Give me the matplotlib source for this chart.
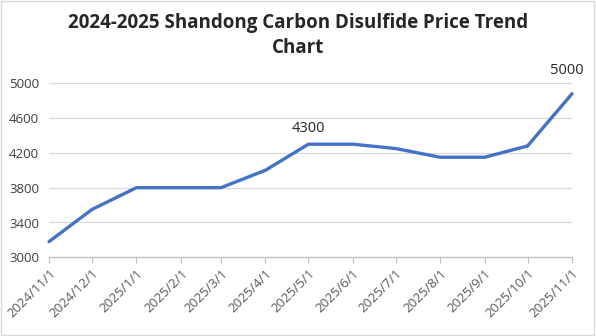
import matplotlib
matplotlib.use("Agg")
import matplotlib.pyplot as plt
import pandas as pd

dates = ["2024/11/1", "2024/12/1", "2025/1/1", "2025/2/1", "2025/3/1", "2025/4/1",
         "2025/5/1", "2025/6/1", "2025/7/1", "2025/8/1", "2025/9/1", "2025/10/1", "2025/11/1"]
prices = [3180, 3550, 3800, 3800, 3800, 4000, 4300, 4300, 4250, 4150, 4150, 4280, 4880]
labels = {6: "4300", 12: "5000"}
title = "2024-2025 Shandong Carbon Disulfide Price Trend\nChart"
yticks = [3000, 3400, 3800, 4200, 4600, 5000]

plt.rcParams['font.family'] = ['Open Sans', 'DejaVu Sans']

x = pd.to_datetime(dates, format="%Y/%m/%d")

fig = plt.figure(figsize=(5.96, 3.36), dpi=100)
ax = fig.add_axes([49/596, 1-257.3/336, (572-49)/596, (257.3-83.3)/336])

ax.plot(x, prices, color="#4472C4", lw=2.4, solid_joinstyle="round", solid_capstyle="round", zorder=3, clip_on=False)

ax.set_ylim(3000, 5000)
ax.set_xlim(x[0], x[-1])
ax.set_yticks(yticks)
ax.set_xticks(x)
ax.set_xticklabels(dates, rotation=45, ha="right", rotation_mode="anchor")
ax.grid(axis="y", color="#D9D9D9", lw=0.9)
ax.set_axisbelow(True)
for s in ["top", "right", "left"]:
    ax.spines[s].set_visible(False)
ax.spines["bottom"].set_color("#BFBFBF")
ax.spines["bottom"].set_linewidth(0.9)
ax.tick_params(axis="y", length=0, labelsize=9.5, labelcolor="#404040", pad=7)
ax.tick_params(axis="x", length=4, color="#BFBFBF", labelsize=9.5, labelcolor="#595959", pad=3)

for i, t in labels.items():
    off = 6 if i != 12 else 11
    ax.annotate(t, (x[i], prices[i]), xytext=(0 if i != 12 else -4, off), textcoords="offset points",
                ha="center", va="bottom", fontsize=10.5, color="#262626")

fig.text(0.5, 0.96, title, ha="center", va="top", fontsize=13.5, fontweight="bold",
         color="#262626", linespacing=1.3)

border = plt.Rectangle((0.002, 0.003), 0.995, 0.993, transform=fig.transFigure, fill=False,
                       ec="#D9D9D9", lw=1)
fig.patches.append(border)

fig.savefig("out.png", dpi=100)
